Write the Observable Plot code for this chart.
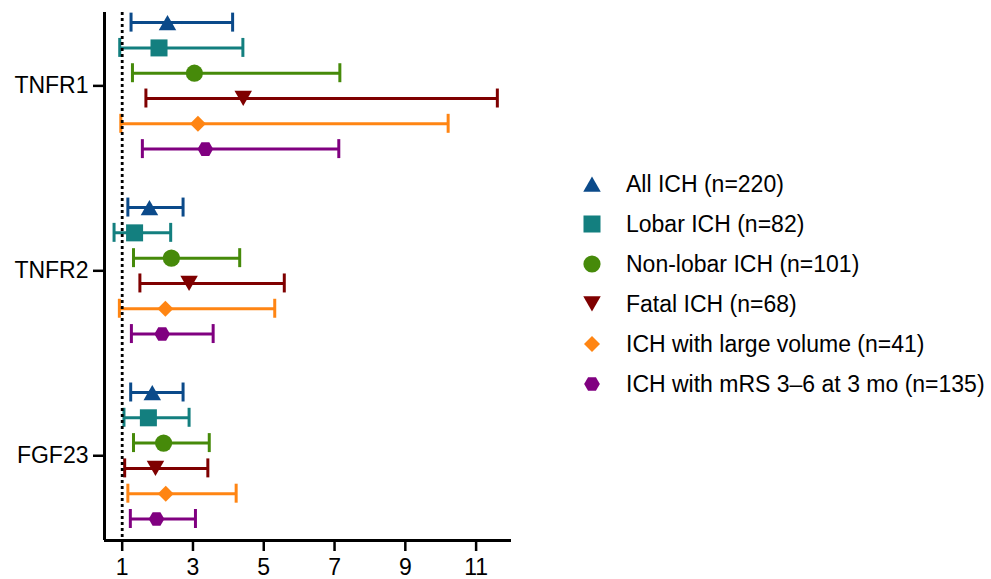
<!DOCTYPE html>
<html>
<head>
<meta charset="utf-8">
<script src="https://cdn.jsdelivr.net/npm/d3@7"></script>
<script src="https://cdn.jsdelivr.net/npm/@observablehq/plot@0.6"></script>
<style>
  html, body { margin: 0; padding: 0; background: #fff; }
  #wrap { position: relative; width: 991px; height: 579px; font-family: "Liberation Sans", Arial, Helvetica, sans-serif; }
  #legend { position: absolute; left: 580px; top: 164px; }
  .row { display: flex; align-items: center; height: 40px; }
  .row svg { width: 24px; height: 24px; margin-right: 22px; flex: none; }
  .row span { font-size: 23px; color: #000; white-space: nowrap; }
</style>
</head>
<body>
<div id="wrap">
  <div id="chart"></div>
  <div id="legend"></div>
</div>
<script>
// ---- data ----
const groups = ["TNFR1", "TNFR2", "FGF23"];
const series = [
  "All ICH (n=220)",
  "Lobar ICH (n=82)",
  "Non-lobar ICH (n=101)",
  "Fatal ICH (n=68)",
  "ICH with large volume (n=41)",
  "ICH with mRS 3\u20136 at 3 mo (n=135)"
];
const estimate = [
  [2.28, 2.04, 3.04, 4.42, 3.14, 3.35],
  [1.77, 1.35, 2.39, 2.89, 2.22, 2.13],
  [1.85, 1.74, 2.17, 1.94, 2.23, 1.97]
];
const lower = [
  [1.25, 0.93, 1.29, 1.67, 0.96, 1.57],
  [1.16, 0.77, 1.32, 1.50, 0.92, 1.26],
  [1.24, 1.05, 1.32, 1.07, 1.16, 1.23]
];
const upper = [
  [4.12, 4.41, 7.15, 11.60, 10.21, 7.12],
  [2.72, 2.37, 4.32, 5.58, 5.31, 3.57],
  [2.72, 2.89, 3.46, 3.42, 4.22, 3.07]
];
const xTicks = [1, 3, 5, 7, 9, 11];
const refValue = 1;

// ---- styles ----
const colors = ["#0b4a8a", "#137f7f", "#468a0a", "#7f0000", "#ff8513", "#800080"];
const symbols = ["triangle", "square", "circle", "triangle", "diamond2", "hexagon"];
const rotations = [0, 0, 0, 180, 0, 90];
const radii = [6.5, 9.6, 8.6, 6.5, 7.2, 6.8];

// ---- layout ----
const groupStep = 7.31;
const capHalf = 0.375;
const yDomain = [-0.4, 20.47];

const rows = groups.flatMap((g, gi) => series.map((s, si) => ({
  group: g, series: s, si,
  pos: gi * groupStep + si,
  est: estimate[gi][si], lo: lower[gi][si], hi: upper[gi][si]
})));
const centers = groups.map((g, gi) => gi * groupStep + 2.5);

const marks = [
  Plot.ruleX([0.5], {stroke: "#000", strokeWidth: 3}),
  Plot.ruleY([yDomain[1]], {stroke: "#000", strokeWidth: 3}),
  Plot.ruleY(rows, {y: "pos", x1: "lo", x2: "hi", stroke: "series", strokeWidth: 3}),
  Plot.ruleX(rows, {x: "lo", y1: d => d.pos - capHalf, y2: d => d.pos + capHalf, stroke: "series", strokeWidth: 3}),
  Plot.ruleX(rows, {x: "hi", y1: d => d.pos - capHalf, y2: d => d.pos + capHalf, stroke: "series", strokeWidth: 3}),
  Plot.ruleX([refValue], {stroke: "#000", strokeWidth: 2.8, strokeDasharray: "3,3"})
];
series.forEach((s, si) => {
  marks.push(Plot.dot(rows.filter(d => d.si === si), {
    x: "est", y: "pos",
    symbol: () => symbols[si],
    r: radii[si],
    rotate: rotations[si],
    dy: si === 0 ? 2.6 : si === 3 ? -2.6 : 0,
    fill: colors[si],
    stroke: "none"
  }));
});
marks.push(Plot.axisX({ticks: xTicks, tickSize: 11, tickPadding: 7, strokeWidth: 2.5, fontSize: 23, label: null}));
marks.push(Plot.axisY({ticks: centers, tickFormat: d => groups[Math.round((d - 2.5) / groupStep)], tickSize: 11, tickPadding: 5, strokeWidth: 2.5, fontSize: 23, label: null}));

const chart = Plot.plot({
  width: 991,
  height: 579,
  marginLeft: 104,
  marginRight: 480,
  marginTop: 12,
  marginBottom: 39,
  x: {domain: [0.5, 12]},
  y: {domain: yDomain, reverse: true},
  symbol: {type: "identity"},
  color: {domain: series, range: colors},
  style: {fontFamily: "'Liberation Sans', Arial, Helvetica, sans-serif", fontSize: "23px", color: "#000", background: "#fff"},
  marks
});
document.getElementById("chart").appendChild(chart);

// ---- legend ----
const legend = d3.select("#legend");
series.forEach((s, si) => {
  const row = legend.append("div").attr("class", "row");
  const svg = row.append("svg").attr("viewBox", "-12 -12 24 24");
  const symMap = {triangle: d3.symbolTriangle, square: d3.symbolSquare, circle: d3.symbolCircle, diamond2: d3.symbolDiamond2};
  let path;
  if (symbols[si] === "hexagon") {
    const rx = radii[si], ry = rx * 2 / Math.sqrt(3), hy = ry / 2;
    path = `M0,${ry}L${rx},${hy}L${rx},${-hy}L0,${-ry}L${-rx},${-hy}L${-rx},${hy}Z`;
  } else {
    path = d3.symbol(symMap[symbols[si]], Math.PI * radii[si] * radii[si])();
  }
  const shift = si === 0 ? 2.6 : si === 3 ? 2.6 : 0;
  svg.append("path").attr("d", path).attr("fill", colors[si])
    .attr("transform", `rotate(${rotations[si]}) translate(0,${shift})`);
  row.append("span").text(s);
});
</script>
</body>
</html>
